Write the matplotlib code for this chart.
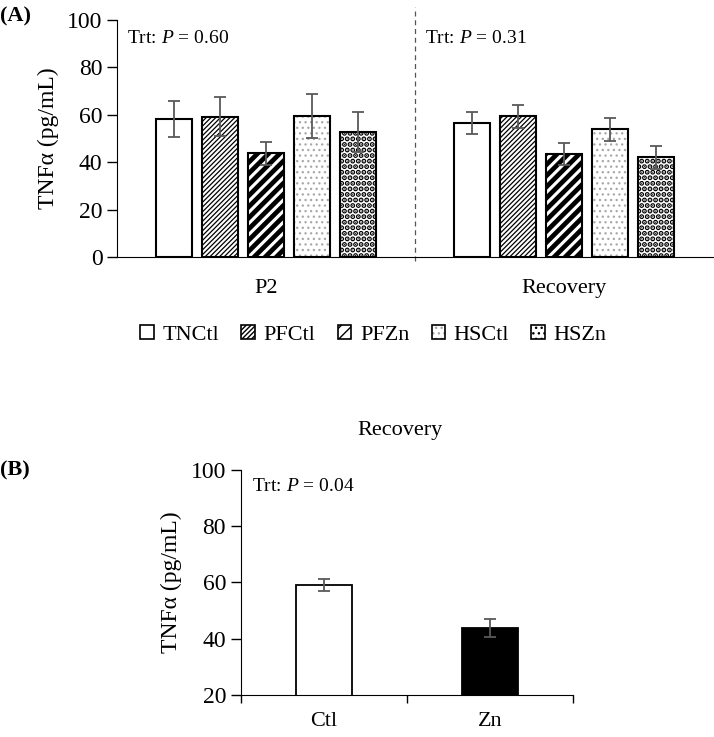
import matplotlib
matplotlib.use("Agg")
import matplotlib.pyplot as plt
import matplotlib.patches as mpatches
from matplotlib.legend_handler import HandlerTuple
import numpy as np

plt.rcParams['font.family'] = ['Liberation Serif', 'DejaVu Serif']
plt.rcParams['mathtext.fontset'] = 'custom'
plt.rcParams['mathtext.rm'] = 'Liberation Serif'
plt.rcParams['mathtext.it'] = 'Liberation Serif:italic'

# panel A data
periods = ["P2", "Recovery"]
treatments = ["TNCtl", "PFCtl", "PFZn", "HSCtl", "HSZn"]
means_a = {
    "TNCtl": [58.4, 56.7],
    "PFCtl": [59.2, 59.3],
    "PFZn":  [43.7, 43.5],
    "HSCtl": [59.4, 53.9],
    "HSZn":  [52.9, 42.0],
}
sem_a = {
    "TNCtl": [7.6, 4.6],
    "PFCtl": [8.3, 4.8],
    "PFZn":  [4.8, 4.8],
    "HSCtl": [9.2, 4.9],
    "HSZn":  [8.4, 4.9],
}
pvals_a = ["0.60", "0.31"]

# panel B data
groups_b = ["Ctl", "Zn"]
means_b = [59.1, 43.8]
sem_b = [2.3, 3.1]
pval_b = "0.04"

# style: (hatch, hatch colour, hatch lw)
styles = {
    "TNCtl": ("", "black", 1.0),
    "PFCtl": ("///////", "black", 0.9),
    "PFZn":  ("///", "black", 3.4),
    "HSCtl": ("...", "#a8a8a8", 0.9),
    "HSZn":  ("...", "black", 2.6),
}
err_col = "#595959"


def set_hlw(artist, lw):
    try:
        artist.set_hatch_linewidth(lw)
    except AttributeError:
        pass


fig = plt.figure(figsize=(7.14, 7.37), dpi=100)

# ---------- panel A ----------
axA = fig.add_axes([0.1639, 0.6513, 0.8347, 0.3216])
x = np.arange(len(periods)) + 0.5
w = 0.121
step = 0.154
handles = []
for i, t in enumerate(treatments):
    hatch, hcol, hlw = styles[t]
    pos = x + (i - 2) * step
    with plt.rc_context({'hatch.linewidth': hlw}):
        b1 = axA.bar(pos, means_a[t], w, color="white", edgecolor=hcol,
                     hatch=hatch, linewidth=0, zorder=2)
        h1 = mpatches.Patch(facecolor="white", edgecolor=hcol, hatch=hatch,
                            linewidth=0)
    for p in list(b1) + [h1]:
        set_hlw(p, hlw)
    axA.bar(pos, means_a[t], w, fill=False, edgecolor="black",
            linewidth=1.5, zorder=3)
    axA.errorbar(pos, means_a[t], yerr=sem_a[t], fmt="none", ecolor=err_col,
                 elinewidth=1.3, capsize=4, capthick=1.3, zorder=4)
    h2 = mpatches.Patch(fill=False, edgecolor="black", linewidth=1.2)
    handles.append((h1, h2))

axA.set_xlim(0, 2)
axA.set_ylim(0, 100)
axA.set_yticks(range(0, 101, 20))
axA.tick_params(axis='y', labelsize=17, length=7, width=1)
axA.set_xticks(x)
axA.set_xticklabels(periods, fontsize=16)
axA.tick_params(axis='x', length=0, pad=16)
axA.set_ylabel("TNFα (pg/mL)", fontsize=17, labelpad=6)
for s in ["top", "right"]:
    axA.spines[s].set_visible(False)
axA.plot([1, 1], [-1.8, 105.5], ls=(0, (4, 3)), color="#555555", lw=0.9,
         clip_on=False, zorder=1)
for j, pv in enumerate(pvals_a):
    axA.text(0.035 + j, 92, r"Trt: $P$ = " + pv, fontsize=14, va="center")

fig.legend(handles, treatments, loc="center", bbox_to_anchor=(0.523, 0.5455),
           ncol=5, frameon=False, fontsize=16, handlelength=0.6,
           handleheight=0.6, handletextpad=0.4, columnspacing=1.0,
           handler_map={tuple: HandlerTuple(ndivide=1, pad=0)})

fig.text(0.0, 0.978, "(A)", fontsize=16, fontweight="bold", va="center")

# ---------- panel B ----------
axB = fig.add_axes([0.337, 0.057, 0.466, 0.3053])
xb = np.arange(len(groups_b)) + 0.5
axB.bar(xb, means_b, 0.34, color=["white", "black"], edgecolor="black",
        linewidth=1.3, zorder=2)
axB.errorbar(xb, means_b, yerr=sem_b, fmt="none", ecolor=err_col,
             elinewidth=1.3, capsize=4, capthick=1.3, zorder=3)
axB.set_xlim(0, 2)
axB.set_ylim(20, 100)
axB.set_yticks(range(20, 101, 20))
axB.tick_params(axis='y', labelsize=17, length=7, width=1)
axB.set_xticks([0, 1, 2])
axB.set_xticklabels([])
axB.tick_params(axis='x', which='major', length=6, width=1)
axB.set_xticks(xb, minor=True)
axB.set_xticklabels(groups_b, minor=True, fontsize=16)
axB.tick_params(axis='x', which='minor', length=0, pad=12)
axB.set_ylabel("TNFα (pg/mL)", fontsize=17, labelpad=6)
for s in ["top", "right"]:
    axB.spines[s].set_visible(False)
axB.text(0.07, 94, r"Trt: $P$ = " + pval_b, fontsize=14, va="center")

fig.text(0.56, 1 - 430 / 737, "Recovery", fontsize=16, ha="center", va="center")
fig.text(0.0, 1 - 470 / 737, "(B)", fontsize=16, fontweight="bold", va="center")

fig.savefig("out.png", dpi=100)
